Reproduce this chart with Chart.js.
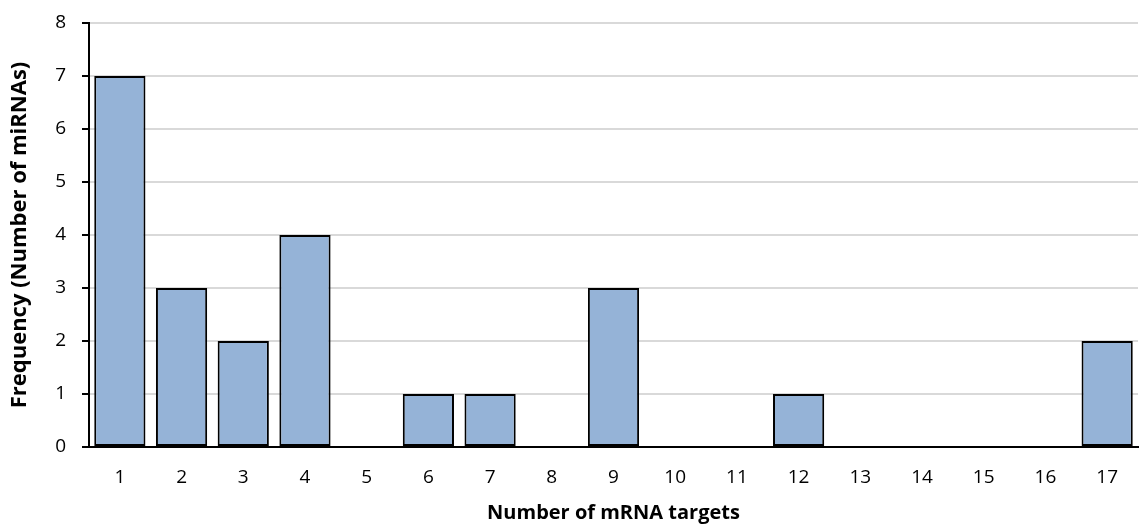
<!DOCTYPE html>
<html>
<head>
<meta charset="utf-8">
<script src="https://cdn.jsdelivr.net/npm/chart.js@4.4.0/dist/chart.umd.min.js"></script>
<style>
  html, body { margin: 0; padding: 0; background: #fff; }
  #wrap { width: 1142px; height: 528px; }
</style>
</head>
<body>
<div id="wrap"><canvas id="myChart"></canvas></div>
<script>
// Target-count histogram

const targetCounts = ["1", "2", "3", "4", "5", "6", "7", "8", "9", "10", "11", "12", "13", "14", "15", "16", "17"];
const mirnaFrequency = [7, 3, 2, 4, 0, 1, 1, 0, 3, 0, 0, 1, 0, 0, 0, 0, 2];
const yTicks = [0, 1, 2, 3, 4, 5, 6, 7, 8];

const fontFamily = "'Open Sans', 'DejaVu Sans', sans-serif";

const ctx = document.getElementById("myChart");

new Chart(ctx, {
  type: "bar",
  data: {
    labels: targetCounts,
    datasets: [
      {
        label: "Frequency",
        data: mirnaFrequency,
        backgroundColor: "#95b3d7",
        borderColor: "#000000",
        borderWidth: 2,
        borderSkipped: false,
        barPercentage: 0.83,
        categoryPercentage: 1,
      },
    ],
  },
  options: {
    responsive: true,
    maintainAspectRatio: false,
    animation: false,
    layout: {
      padding: { top: 23, right: 4, bottom: 0, left: 0 },
    },
    plugins: {
      legend: { display: false },
      tooltip: { enabled: false },
    },
    scales: {
      x: {
        grid: { display: false, drawTicks: false },
        border: { display: true, color: "#000", width: 2 },
        ticks: {
          color: "#000",
          padding: 19,
          font: { family: fontFamily, size: 19 },
        },
        title: {
          display: true,
          text: "Number of mRNA targets",
          color: "#000",
          padding: { top: 8, bottom: 3 },
          font: { family: fontFamily, size: 20, weight: "bold" },
        },
        afterFit: (scale) => {
          scale.height = 81;
          scale.paddingLeft = 0;
          scale.paddingRight = 0;
        },
      },
      y: {
        min: 0,
        max: 8,
        afterBuildTicks: (scale) => {
          scale.ticks = yTicks.map((v) => ({ value: v }));
        },
        grid: {
          color: "#d9d9d9",
          lineWidth: 2,
          drawTicks: true,
          tickLength: 7,
          tickColor: "#000",
        },
        border: { display: true, color: "#000", width: 2 },
        ticks: {
          color: "#000",
          padding: 16,
          font: { family: fontFamily, size: 19 },
        },
        title: {
          display: true,
          text: "Frequency (Number of miRNAs)",
          color: "#000",
          padding: { top: 7, bottom: 0 },
          font: { family: fontFamily, size: 22, weight: "bold" },
        },
        afterFit: (scale) => {
          scale.width = 89;
          scale.paddingTop = 0;
          scale.paddingBottom = 0;
        },
      },
    },
  },
});
</script>
</body>
</html>
